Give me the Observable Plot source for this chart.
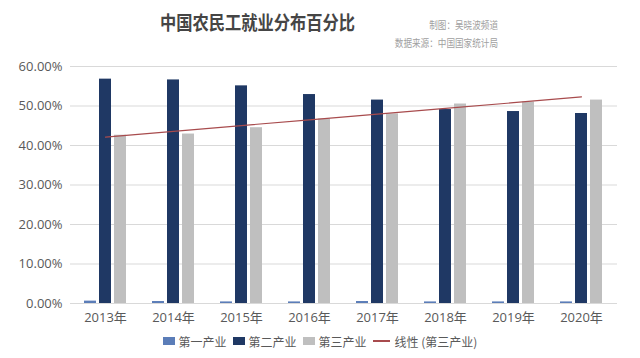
<!DOCTYPE html>
<html><head><meta charset="utf-8">
<script src="https://cdn.jsdelivr.net/npm/d3@7"></script>
<script src="https://cdn.jsdelivr.net/npm/@observablehq/plot@0.6"></script>
<style>
body{margin:0;background:#fff;font-family:"Open Sans","Noto Sans CJK SC",sans-serif;}
#wrap{position:relative;width:640px;height:358px;overflow:hidden;background:#fff}
#header{position:relative;height:50px}
.title{position:absolute;left:160px;top:11px;font-size:19px;line-height:22px;font-weight:bold;color:#454545;transform:scaleX(0.855);transform-origin:left top;font-family:"Noto Sans CJK SC",sans-serif;white-space:nowrap}
.note{position:absolute;right:142px;font-size:10px;line-height:12px;color:#a0a0a0;transform:scaleX(0.86);transform-origin:right top;white-space:nowrap;font-family:"Noto Sans CJK SC",sans-serif}
#legend{position:absolute;left:0;top:331px;width:640px;height:20px;display:flex;justify-content:center;align-items:center;font-size:12px;color:#595959;font-family:"Noto Sans CJK SC",sans-serif}
.item{display:flex;align-items:center;margin:0 3px}
.sw{display:inline-block;width:12px;height:8px;margin-right:4px}
.ln{display:inline-block;width:17px;height:1.5px;margin-right:5px}
</style></head>
<body>
<div id="wrap">
  <div id="header">
    <div class="title">中国农民工就业分布百分比</div>
    <div class="note" style="top:19px">制图：吴晓波频道</div>
    <div class="note" style="top:37px">数据来源：中国国家统计局</div>
  </div>
  <div id="chart"></div>
  <div id="legend"></div>
</div>
<script>
const years = ["2013年","2014年","2015年","2016年","2017年","2018年","2019年","2020年"];
const primary = [0.6,0.5,0.4,0.4,0.5,0.4,0.4,0.4];
const secondary = [56.8,56.6,55.1,52.9,51.5,49.1,48.6,48.1];
const tertiary = [42.6,42.9,44.5,46.7,48.0,50.5,51.0,51.5];
const yTicks = [0,10,20,30,40,50,60];
const seriesNames = ["第一产业","第二产业","第三产业"];
const trendName = "线性 (第三产业)";
const colors = ["#5b7db8","#1f3864","#bfbfbf"];
const trendColor = "#a84b4d";

// linear regression trend of tertiary series
const n = tertiary.length;
const mx = (n-1)/2;
const my = d3.mean(tertiary);
let sxy=0, sxx=0;
tertiary.forEach((v,i)=>{sxy+=(i-mx)*(v-my); sxx+=(i-mx)*(i-mx);});
const slope = sxy/sxx, intercept = my - slope*mx;

const rows = years.map((y,i)=>({year:y, p:primary[i], s:secondary[i], t:tertiary[i], trend: intercept + slope*i}));

const chart = Plot.plot({
  width:640, height:280,
  marginTop:16, marginBottom:27, marginLeft:70, marginRight:23,
  style:{fontFamily:'"Open Sans","Noto Sans CJK SC",sans-serif', fontSize:"13px", color:"#595959", background:"transparent"},
  x:{domain:years, paddingInner:0.82, paddingOuter:0.41, label:null},
  y:{domain:[0,60], label:null},
  marks:[
    Plot.gridY(yTicks,{stroke:"#d9d9d9", strokeOpacity:1}),
    Plot.axisY({ticks:yTicks, tickFormat:d=>d.toFixed(2)+"%", tickSize:0, tickPadding:8, label:null, fontSize:13}),
    Plot.axisX({tickSize:0, tickPadding:9, label:null, fontSize:13}),
    Plot.barY(rows,{x:"year", y:"p", fill:colors[0], dx:-15}),
    Plot.barY(rows,{x:"year", y:"s", fill:colors[1]}),
    Plot.barY(rows,{x:"year", y:"t", fill:colors[2], dx:15}),
    Plot.line(rows,{x:"year", y:"trend", stroke:trendColor, strokeWidth:1.1})
  ]
});
document.getElementById("chart").appendChild(chart);

const leg = document.getElementById("legend");
seriesNames.forEach((name,i)=>{
  const it=document.createElement("span"); it.className="item";
  it.innerHTML=`<span class="sw" style="background:${colors[i]}"></span>${name}`;
  leg.appendChild(it);
});
const it=document.createElement("span"); it.className="item";
it.innerHTML=`<span class="ln" style="background:${trendColor}"></span>${trendName}`;
leg.appendChild(it);
</script>
</body></html>
